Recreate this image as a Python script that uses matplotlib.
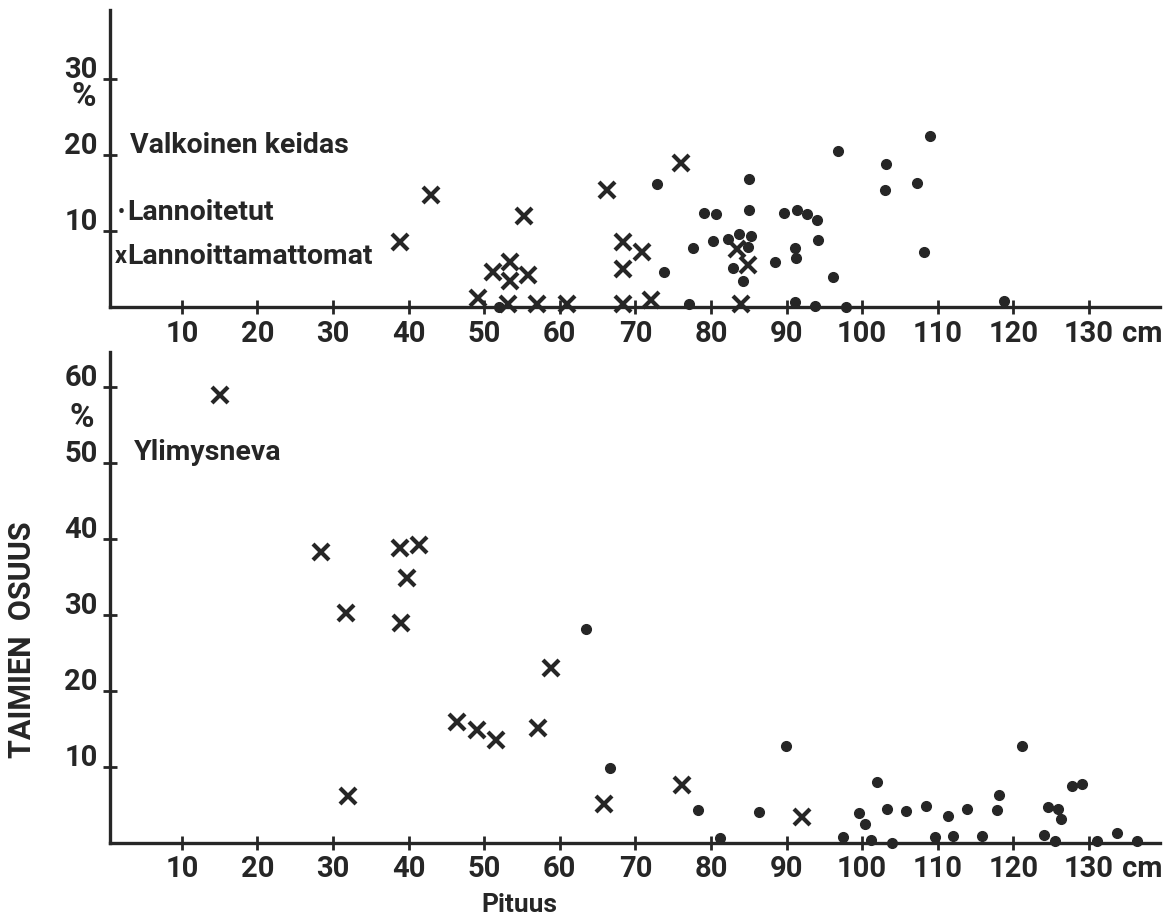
import matplotlib
matplotlib.use('Agg')
from matplotlib import pyplot as plt
from matplotlib.transforms import ScaledTranslation
import numpy as np

plt.rcParams['font.family'] = ['Roboto', 'DejaVu Sans']
plt.rcParams['font.weight'] = 'bold'

# Valkoinen keidas (top panel)
vk_fert_x = [72.8, 79.1, 80.7, 85.0, 85.0, 77.6, 80.3, 82.3, 83.7, 85.3, 84.9, 82.9, 84.3,
             73.8, 88.5, 89.7, 91.4, 92.7, 94.0, 91.1, 91.3, 94.2, 77.1, 91.1, 93.8, 52.0,
             96.2, 96.8, 103.2, 103.0, 107.3, 109.0, 108.2, 118.7, 97.8]
vk_fert_y = [16.2, 12.4, 12.2, 16.9, 12.8, 7.8, 8.7, 9.0, 9.6, 9.3, 7.9, 5.1, 3.5,
             4.7, 5.9, 12.4, 12.8, 12.2, 11.5, 7.8, 6.5, 8.8, 0.5, 0.7, 0.2, 0.0,
             4.0, 20.5, 18.8, 15.4, 16.3, 22.5, 7.2, 0.8, 0.1]
vk_unfert_x = [38.9, 43.0, 55.2, 49.2, 51.1, 53.4, 53.4, 55.8, 53.2, 57.0, 61.0,
               66.3, 76.0, 68.4, 68.4, 68.4, 70.9, 72.0, 83.5, 84.9, 84.0]
vk_unfert_y = [8.6, 14.8, 12.0, 1.2, 4.7, 6.0, 3.5, 4.2, 0.5, 0.5, 0.5,
               15.4, 19.0, 8.6, 5.0, 0.5, 7.2, 1.0, 7.6, 5.6, 0.5]

# Ylimysneva (bottom panel)
yl_fert_x = [63.5, 66.7, 78.3, 86.4, 89.9, 81.2, 99.6, 100.4, 101.9, 103.3, 105.8, 108.5,
             111.4, 113.9, 117.9, 118.1, 121.2, 124.6, 125.9, 126.3, 127.8, 129.1,
             97.4, 101.2, 104.0, 109.7, 112.0, 115.9, 124.0, 125.5, 131.0, 133.7, 136.4]
yl_fert_y = [28.2, 9.9, 4.3, 4.1, 12.8, 0.7, 4.0, 2.5, 8.0, 4.5, 4.2, 4.8,
             3.6, 4.5, 4.3, 6.3, 12.7, 4.7, 4.5, 3.2, 7.5, 7.7,
             0.8, 0.4, 0.0, 0.8, 0.9, 0.9, 1.0, 0.2, 0.2, 1.3, 0.3]
yl_unfert_x = [15.1, 28.4, 31.7, 38.9, 41.4, 39.8, 39.0, 32.0, 46.4, 49.1, 51.5,
               57.1, 58.9, 65.9, 76.1, 92.1]
yl_unfert_y = [58.9, 38.3, 30.3, 38.8, 39.2, 34.9, 28.9, 6.2, 15.9, 14.9, 13.6,
               15.1, 23.0, 5.1, 7.6, 3.4]

x_ticks = [10, 20, 30, 40, 50, 60, 70, 80, 90, 100, 110, 120, 130]
x_labels = ['10', '20', '30', '40', '50', '60', '70', '80', '90', '100', '110', '120', '130']
top_yticks = [10, 20, 30]
bot_yticks = [10, 20, 30, 40, 50, 60]

ink = '#262626'


def style_axis(ax, yticks, fig):
    # Old print look: only left and bottom axis lines, ticks crossing the line
    for side in ['top', 'right']:
        ax.spines[side].set_visible(False)
    for side in ['left', 'bottom']:
        ax.spines[side].set_linewidth(2.4)
        ax.spines[side].set_color(ink)
    ax.set_xticks(x_ticks)
    ax.set_xticklabels(x_labels)
    ax.set_yticks(yticks)
    ax.set_yticklabels([str(v) for v in yticks])
    ax.tick_params(direction='inout', length=10, width=2, colors=ink,
                   labelsize=21, pad=4)
    ax.set_xlim(0.5, 139.4)
    # Y labels sit a bit above their ticks
    for lab in ax.get_yticklabels():
        lab.set_transform(lab.get_transform() + ScaledTranslation(0, 0.12, fig.dpi_scale_trans))
    ax.annotate('cm', xy=(134.4, 0), xycoords=('data', 'axes fraction'),
                xytext=(0, -19), textcoords='offset points', ha='left', va='center',
                fontsize=21, color=ink, annotation_clip=False)


fig = plt.figure(figsize=(11.67, 9.23), dpi=100)
ax1 = fig.add_axes([0.0943, 0.667, 0.8997, 0.322])
ax2 = fig.add_axes([0.0943, 0.0867, 0.8997, 0.532])

# Top panel
ax1.plot(vk_fert_x, vk_fert_y, 'o', ms=7, color=ink, clip_on=False)
ax1.plot(vk_unfert_x, vk_unfert_y, 'x', ms=11, mew=3, color=ink, clip_on=False)
ax1.set_ylim(0, 39)
style_axis(ax1, top_yticks, fig)
ax1.text(-3.0, 27.6, '%', ha='center', va='center', fontsize=24, color=ink, clip_on=False)
ax1.text(3.2, 21.3, 'Valkoinen keidas', ha='left', va='center', fontsize=20.5, color=ink)
ax1.text(2.0, 12.4, '•', ha='center', va='center', fontsize=14, color=ink)
ax1.text(2.8, 12.4, 'Lannoitetut', ha='left', va='center', fontsize=20.5, color=ink)
ax1.text(1.9, 6.7, 'x', ha='center', va='center', fontsize=17, color=ink)
ax1.text(2.8, 6.7, 'Lannoittamattomat', ha='left', va='center', fontsize=20.5, color=ink)

# Bottom panel
ax2.plot(yl_fert_x, yl_fert_y, 'o', ms=7, color=ink, clip_on=False)
ax2.plot(yl_unfert_x, yl_unfert_y, 'x', ms=11, mew=3, color=ink, clip_on=False)
ax2.set_ylim(0, 64.6)
style_axis(ax2, bot_yticks, fig)
ax2.text(-3.2, 55.9, '%', ha='center', va='center', fontsize=24, color=ink, clip_on=False)
ax2.text(3.6, 51.4, 'Ylimysneva', ha='left', va='center', fontsize=20.5, color=ink)

fig.text(0.019, 0.307, 'TAIMIEN  OSUUS', rotation=90, ha='center', va='center',
         fontsize=22, color=ink)
fig.text(0.445, 0.02, 'Pituus', ha='center', va='center', fontsize=19, color=ink)

fig.savefig('out.png', dpi=100)
